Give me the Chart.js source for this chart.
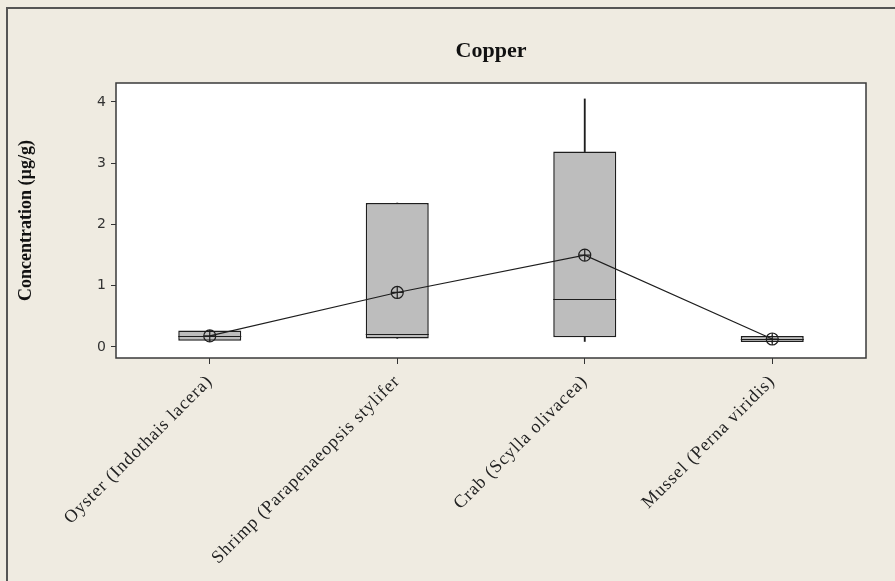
<!DOCTYPE html>
<html>
<head>
<meta charset="utf-8">
<script src="https://cdn.jsdelivr.net/npm/chart.js@4.4.1/dist/chart.umd.min.js"></script>
<style>
    html, body { margin: 0; padding: 0; background: #efebe1; }
    #wrap { position: relative; width: 895px; height: 581px; overflow: hidden; }
    #frame {
        position: absolute; left: 6px; top: 7px; width: 1000px; height: 1000px;
        border-top: 2px solid #555; border-left: 2px solid #555;
    }
    canvas { position: absolute; left: 0; top: 0; }
</style>
</head>
<body>
<div id="wrap">
    <div id="frame"></div>
    <canvas id="copperChart" width="895" height="581"></canvas>
</div>
<script>
// --- Data ---
const categories = ['Oyster (Indothais lacera)', 'Shrimp (Parapenaeopsis stylifer', 'Crab (Scylla olivacea)', 'Mussel (Perna viridis)'];
const q1Values = [0.10, 0.14, 0.16, 0.08];
const q3Values = [0.27, 2.35, 3.19, 0.18];
const medianValues = [0.18, 0.21, 0.78, 0.13];
const meanValues = [0.18, 0.89, 1.50, 0.13];
const whiskerLow = [0.10, 0.14, 0.09, 0.08];
const whiskerHigh = [0.27, 2.35, 4.05, 0.18];
const yTicks = [0, 1, 2, 3, 4];

const BOX_FILL = '#bdbdbd';
const INK = '#1e1e1e';

// floating bar ranges
const boxRanges = categories.map((_, i) => [q1Values[i], q3Values[i]]);
const upperWhiskers = categories.map((_, i) => [q3Values[i], whiskerHigh[i]]);
const lowerWhiskers = categories.map((_, i) => [whiskerLow[i], q1Values[i]]);

// plot frame + white background, medians on top of boxes
const plotFramePlugin = {
    id: 'plotFrame',
    beforeDatasetsDraw(chart) {
        const { ctx, chartArea: a } = chart;
        ctx.save();
        ctx.fillStyle = '#ffffff';
        ctx.fillRect(a.left, a.top, a.right - a.left, a.bottom - a.top);
        ctx.restore();
    },
    afterDatasetsDraw(chart) {
        const { ctx, scales } = chart;
        const boxMeta = chart.getDatasetMeta(0);
        ctx.save();
        ctx.strokeStyle = INK;
        ctx.lineWidth = 1.2;
        boxMeta.data.forEach((bar, i) => {
            const y = Math.round(scales.y.getPixelForValue(medianValues[i])) + 0.5;
            ctx.beginPath();
            ctx.moveTo(bar.x - bar.width / 2, y);
            ctx.lineTo(bar.x + bar.width / 2, y);
            ctx.stroke();
        });
        ctx.restore();
        // x labels (ticks.z = 1, drawn after this) get the loose spacing of the original
        ctx.letterSpacing = '0.9px';
    },
    afterDraw(chart) {
        const { ctx, chartArea: a } = chart;
        ctx.letterSpacing = '0px';
        ctx.save();
        ctx.strokeStyle = '#3a3a3a';
        ctx.lineWidth = 1.5;
        ctx.strokeRect(a.left, a.top, a.right - a.left, a.bottom - a.top);
        ctx.restore();
    }
};

const ctx = document.getElementById('copperChart').getContext('2d');
new Chart(ctx, {
    data: {
        labels: categories,
        datasets: [
            {
                type: 'bar', label: 'Box', data: boxRanges, order: 3, grouped: false,
                backgroundColor: BOX_FILL, borderColor: INK, borderWidth: 1.5, borderSkipped: false,
                barPercentage: 0.336, categoryPercentage: 1
            },
            {
                type: 'bar', label: 'Upper whisker', data: upperWhiskers, order: 4, grouped: false,
                backgroundColor: INK, barThickness: 1.2
            },
            {
                type: 'bar', label: 'Lower whisker', data: lowerWhiskers, order: 4, grouped: false,
                backgroundColor: INK, barThickness: 1.2
            },
            {
                type: 'line', label: 'Mean', data: meanValues, order: 1,
                borderColor: INK, borderWidth: 1.2, tension: 0,
                pointStyle: 'circle', pointRadius: 6, pointBorderWidth: 1.2,
                pointBackgroundColor: 'rgba(0,0,0,0)', pointBorderColor: INK
            },
            {
                type: 'line', label: 'Mean cross', data: meanValues, order: 0, showLine: false,
                pointStyle: 'cross', pointRadius: 6, pointBorderWidth: 1.2, pointBorderColor: INK
            }
        ]
    },
    options: {
        responsive: false,
        animation: false,
        layout: { padding: { left: 0, right: 29, top: 0, bottom: 0 } },
        plugins: {
            legend: { display: false },
            tooltip: { enabled: false },
            title: {
                display: true, text: 'Copper', fullSize: false, color: '#111',
                font: { family: '"Liberation Serif", serif', size: 22, weight: 'bold', lineHeight: 1.2 },
                padding: { top: 38, bottom: 18.6 }
            }
        },
        scales: {
            x: {
                type: 'category', offset: true,
                grid: { display: true, drawOnChartArea: false, tickLength: 6, color: '#333', offset: false },
                border: { display: false },
                ticks: {
                    z: 1, minRotation: 45, maxRotation: 45, padding: 7, autoSkip: false,
                    color: '#222', font: { family: '"Liberation Serif", serif', size: 18 }
                },
                afterFit(scale) { scale.height = 223; }
            },
            y: {
                type: 'linear', min: -0.18, max: 4.31,
                afterBuildTicks(scale) { scale.ticks = yTicks.map(v => ({ value: v })); },
                grid: { display: true, drawOnChartArea: false, tickLength: 5, color: '#333' },
                border: { display: false },
                ticks: {
                    padding: 5, color: '#333',
                    font: { family: '"DejaVu Sans", sans-serif', size: 14 }
                },
                title: {
                    display: true, text: 'Concentration (µg/g)', color: '#111',
                    font: { family: '"Liberation Serif", serif', size: 18, weight: 'bold' },
                    padding: { top: 16, bottom: 0 }
                },
                afterFit(scale) { scale.width = 116; }
            }
        }
    },
    plugins: [plotFramePlugin]
});
</script>
</body>
</html>
